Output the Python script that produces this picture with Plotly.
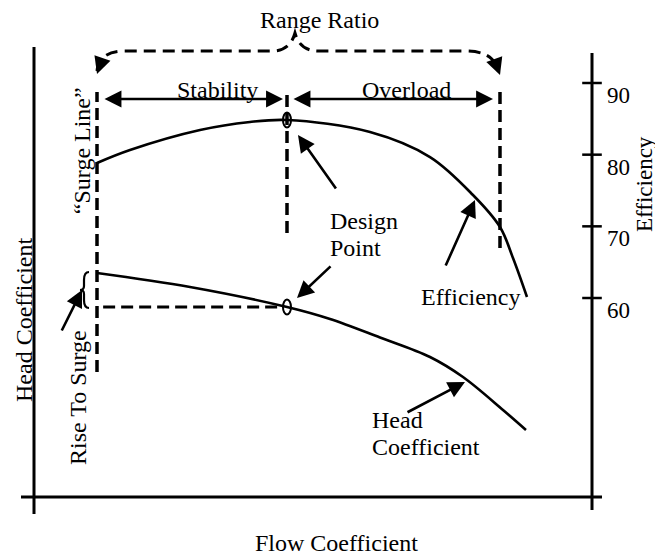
import plotly.graph_objects as go

# ---------------- data ----------------
# Efficiency curve: flow coefficient (normalised 0..1 along the flow axis) vs efficiency (%)
flow_eff = [0.1129, 0.1720, 0.2975, 0.3871, 0.4534, 0.6022, 0.7097, 0.7867, 0.8351, 0.8584, 0.8835]
efficiency = [78.84, 80.65, 83.44, 84.56, 84.84, 83.16, 79.67, 74.37, 69.91, 65.58, 60.14]

# Head coefficient curve: flow coefficient vs head coefficient (normalised 0..1)
flow_head = [0.1129, 0.2796, 0.4534, 0.5305, 0.6201, 0.7097, 0.7688, 0.8405, 0.8817]
head = [0.5103, 0.4784, 0.4328, 0.4055, 0.3633, 0.3189, 0.2733, 0.1982, 0.1526]

eff_ticks = [60, 70, 80, 90]
eff_tick_text = ["60", "70", "80", "90"]

DESIGN_EFF_IDX = 4      # design point on efficiency curve
DESIGN_HEAD_IDX = 2     # design point on head curve
overload_flow = 0.8351  # choke / overload limit

# ---------------- figure ----------------
FONT = "Liberation Serif, Times New Roman, serif"
FS = 24
BLACK = "black"

surge_flow = flow_head[0]
design_flow = flow_head[DESIGN_HEAD_IDX]
design_head = head[DESIGN_HEAD_IDX]
design_eff = efficiency[DESIGN_EFF_IDX]

fig = go.Figure()

fig.add_trace(go.Scatter(x=flow_eff, y=efficiency, yaxis="y2", mode="lines",
                         line=dict(color=BLACK, width=2.6, shape="spline", smoothing=1.0),
                         hoverinfo="skip", showlegend=False))
fig.add_trace(go.Scatter(x=flow_head, y=head, mode="lines",
                         line=dict(color=BLACK, width=2.6, shape="spline", smoothing=1.0),
                         hoverinfo="skip", showlegend=False))
# crossing tick marks of the efficiency axis
fig.add_trace(go.Scatter(x=[1.0] * len(eff_ticks), y=eff_ticks, yaxis="y2", mode="markers",
                         marker=dict(symbol="line-ew", size=14, line=dict(color=BLACK, width=2.5)),
                         cliponaxis=False, hoverinfo="skip", showlegend=False))

shapes = []
axis_line = dict(color=BLACK, width=3)
# axes frame
shapes.append(dict(type="line", xref="x", yref="y", x0=-0.0233, x1=1.0179, y0=0, y1=0, line=axis_line))
shapes.append(dict(type="line", xref="x", yref="y", x0=0, x1=0, y0=-0.0387, y1=1.0251, line=axis_line))
shapes.append(dict(type="line", xref="x", yref="y", x0=1, x1=1, y0=-0.0296, y1=1.0114, line=axis_line))

dash = dict(color=BLACK, width=3.5, dash="12px,6px")
# surge line, design line, overload line
shapes.append(dict(type="line", xref="x", yref="y", x0=surge_flow, x1=surge_flow, y0=0.2847, y1=0.9226, line=dash))
shapes.append(dict(type="line", xref="x", yref="y", x0=design_flow, x1=design_flow, y0=0.6014, y1=0.9226, line=dash))
shapes.append(dict(type="line", xref="x", yref="y", x0=overload_flow, x1=overload_flow, y0=0.5672, y1=0.9226, line=dash))
# horizontal dashed line at design head
shapes.append(dict(type="line", xref="x", yref="y", x0=surge_flow + 0.011, x1=design_flow - 0.008,
                   y0=design_head, y1=design_head, line=dict(color=BLACK, width=3.2, dash="12px,6px")))

# range ratio brace (dashed)
brace = ("M 0.1129,0.9704 Q 0.1165,1.0159 0.1631,1.0159 L 0.4265,1.0159 "
         "Q 0.4588,1.0159 0.4677,1.0569 Q 0.4767,1.0159 0.5090,1.0159 "
         "L 0.7724,1.0159 Q 0.8244,1.0159 0.8297,0.9727")
shapes.append(dict(type="path", xref="x", yref="y", path=brace,
                   line=dict(color=BLACK, width=3, dash="12px,7px")))

# small brace marking rise to surge
rb = ("M 0.0986,0.5125 Q 0.0896,0.5125 0.0896,0.4943 L 0.0896,0.4806 "
      "Q 0.0896,0.4715 0.0824,0.4715 Q 0.0896,0.4715 0.0896,0.4624 "
      "L 0.0896,0.4487 Q 0.0896,0.4305 0.0986,0.4305")
shapes.append(dict(type="path", xref="x", yref="y", path=rb, line=dict(color=BLACK, width=2.2)))

# design point ellipses (open)
shapes.append(dict(type="circle", xref="x", yref="y2",
                   x0=design_flow - 0.0072, x1=design_flow + 0.0072,
                   y0=design_eff - 1.05, y1=design_eff + 1.05, line=dict(color=BLACK, width=2)))
shapes.append(dict(type="circle", xref="x", yref="y",
                   x0=design_flow - 0.0072, x1=design_flow + 0.0072,
                   y0=design_head - 0.0171, y1=design_head + 0.0171, line=dict(color=BLACK, width=2)))

ann = []


def text(x, y, s, angle=0, xanchor="center", size=FS):
    ann.append(dict(x=x, y=y, xref="x", yref="y", text=s, showarrow=False, textangle=angle,
                    xanchor=xanchor, yanchor="middle", font=dict(family=FONT, size=size, color=BLACK)))


def arrow(x_tip, y_tip, x_tail, y_tail, side="end"):
    ann.append(dict(x=x_tip, y=y_tip, ax=x_tail, ay=y_tail, xref="x", yref="y", axref="x", ayref="y",
                    text="", showarrow=True, arrowhead=2, arrowsize=1.3, arrowwidth=2.6,
                    arrowcolor=BLACK, arrowside=side, standoff=0, startstandoff=0))


text(0.5125, 1.0870, "Range Ratio")
text(0.3297, 0.9282, "Stability")
text(0.6667, 0.9260, "Overload")
text(0.0860, 0.7900, "\u201cSurge Line\u201d", angle=-90)
text(0.0789, 0.2255, "Rise To Surge", angle=-90)
text(-0.0179, 0.4032, "Head Coefficient", angle=-90)
text(1.0950, 0.7130, "Efficiency", angle=-90, size=23)
text(0.5269, 0.6287, "Design", xanchor="left")
text(0.5269, 0.5672, "Point", xanchor="left")
text(0.7832, 0.4567, "Efficiency")
text(0.6022, 0.1754, "Head", xanchor="left")
text(0.6022, 0.1128, "Coefficient", xanchor="left")
text(0.5430, -0.1048, "Flow Coefficient")

# stability / overload double arrows
arrow(0.4462, 0.9066, 0.1237, 0.9066, side="end+start")
arrow(0.8226, 0.9066, 0.4624, 0.9066, side="end+start")
# range ratio brace arrowheads
arrow(0.1129, 0.9636, 0.1200, 0.9900)
arrow(0.8351, 0.9613, 0.8270, 0.9900)
# pointer arrows
arrow(0.4731, 0.8246, 0.5430, 0.6993)   # design point (efficiency)
arrow(0.4713, 0.4533, 0.5341, 0.5285)   # design point (head)
arrow(0.7903, 0.6765, 0.7366, 0.5239)   # efficiency
arrow(0.7724, 0.2620, 0.6667, 0.1913)   # head coefficient
arrow(0.0860, 0.4715, 0.0484, 0.3759)   # rise to surge

# The page body adds an 8 px offset, so the figure is 8 px smaller and the
# axis ranges start 8 px later; the drawing then lands where the reference has it.
fig.update_layout(
    width=655, height=548,
    margin=dict(l=0, r=0, t=0, b=0, pad=0),
    paper_bgcolor="white", plot_bgcolor="white",
    xaxis=dict(range=[-0.046595, 1.127240], visible=False, fixedrange=True),
    yaxis=dict(range=[-0.134396, 1.113895], visible=False, fixedrange=True),
    yaxis2=dict(overlaying="y", anchor="free", position=584 / 655, side="right",
                range=[24.003, 100.465], tickvals=eff_ticks, ticktext=eff_tick_text,
                ticks="", showline=False, showgrid=False, zeroline=False, automargin=False,
                tickfont=dict(family=FONT, size=23, color=BLACK),
                ticklabelshift=12, ticklabelstandoff=14, fixedrange=True),
    shapes=shapes, annotations=ann, showlegend=False,
)

fig.write_html("out.html")
